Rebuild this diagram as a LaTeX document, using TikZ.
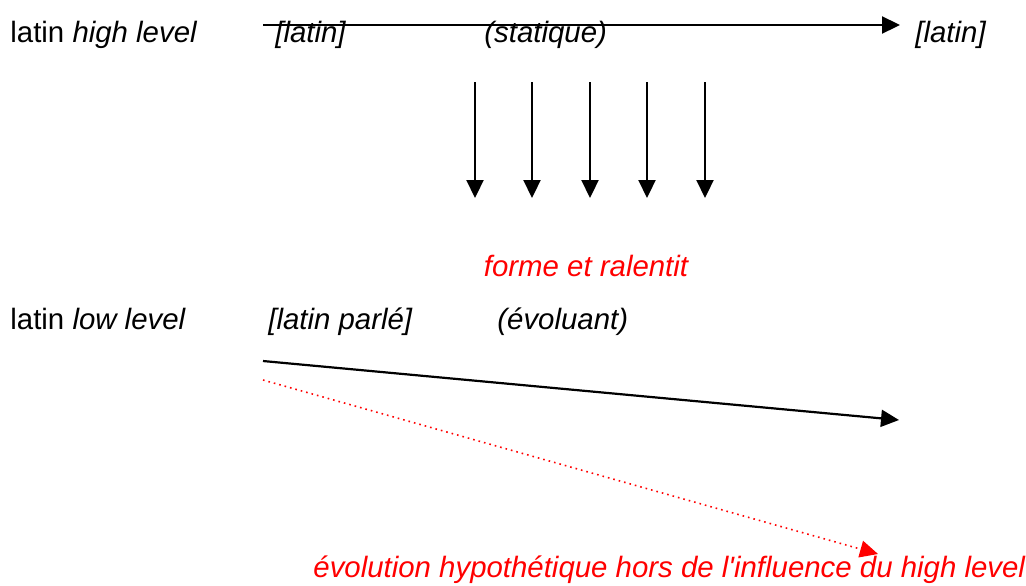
\documentclass[tikz,border=0pt]{standalone}
\usepackage{fontspec}
\setmainfont{Liberation Sans}
\usetikzlibrary{arrows.meta, positioning}

\begin{document}
\begin{tikzpicture}[
    x=0.5pt, y=-0.5pt,
    font=\fontsize{14.7}{17}\selectfont,
    lbl/.style={inner sep=0pt, anchor=base west},
    ital/.style={lbl, font=\fontsize{14.7}{17}\selectfont\itshape},
    note/.style={ital, text=red},
    arr/.style={-{Triangle[length=9pt, width=8.5pt]}, line width=1.1pt},
    darr/.style={-{Triangle[length=9pt, width=8.5pt]}, line width=0.8pt, red, dotted},
]
    \useasboundingbox (0,0) rectangle (1026,585);

    %==================== HIGH LEVEL ====================
    \node[lbl] (high) at (10,42) {latin \textit{high level}};
    \node[ital] (hlatin) at (275,42) {[latin]};
    \node[ital] (stat) at (484,42) {(statique)};
    \node[ital] (hlatin2) at (915,42) {[latin]};

    \coordinate (hstart) at (263,25);
    \coordinate (hend) at (900,25);
    \draw[arr] (hstart) -- (hend);

    %==================== influence arrows ====================
    \foreach \i/\x in {1/475, 2/532, 3/590, 4/647, 5/705} {
        \coordinate (d\i) at (\x,82);
        \coordinate (e\i) at (\x,198);
        \draw[arr] (d\i) -- (e\i);
    }

    \node[note, anchor=base] (forme) at (586,276) {forme et ralentit};

    %==================== LOW LEVEL ====================
    \node[lbl] (low) at (10,329) {latin \textit{low level}};
    \node[ital] (parle) at (268,329) {[latin parlé]};
    \node[ital] (evol) at (497,329) {(évoluant)};

    \coordinate (lstart) at (263,361);
    \coordinate (lend) at (899,420);
    \draw[arr] (lstart) -- (lend);

    % hypothetical path
    \coordinate (rstart) at (263,380);
    \coordinate (rend) at (878,554);
    \draw[darr] (rstart) -- (rend);

    \node[note] (hypo) at (313,577) {évolution hypothétique hors de l\textquotesingle influence du high level};

\end{tikzpicture}
\end{document}
